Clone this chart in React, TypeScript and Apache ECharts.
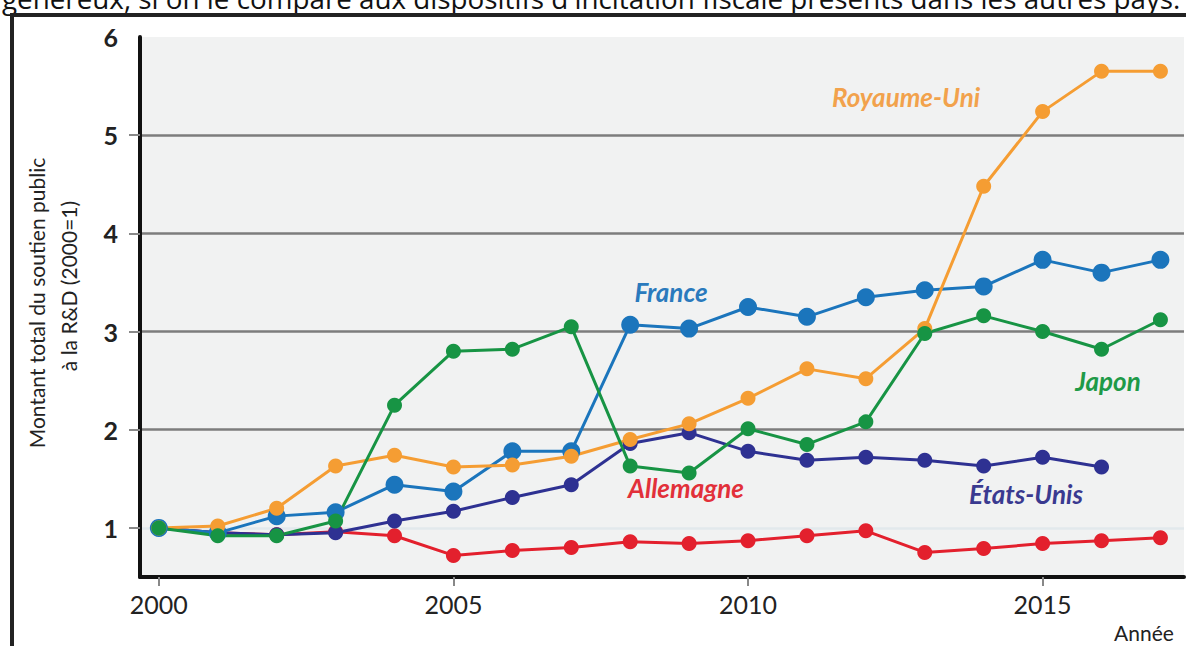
import React, { useEffect, useRef } from "react";
import * as echarts from "echarts";

const years = [2000, 2001, 2002, 2003, 2004, 2005, 2006, 2007, 2008, 2009, 2010, 2011, 2012, 2013, 2014, 2015, 2016, 2017];

const royaumeUni = [1.0, 1.02, 1.2, 1.63, 1.74, 1.62, 1.64, 1.73, 1.9, 2.06, 2.32, 2.62, 2.52, 3.03, 4.48, 5.24, 5.65, 5.65];
const france = [1.0, 0.95, 1.12, 1.16, 1.44, 1.37, 1.78, 1.78, 3.07, 3.03, 3.25, 3.15, 3.35, 3.42, 3.46, 3.73, 3.6, 3.73];
const japon = [1.0, 0.92, 0.92, 1.07, 2.25, 2.8, 2.82, 3.05, 1.63, 1.56, 2.01, 1.85, 2.08, 2.98, 3.16, 3.0, 2.82, 3.12];
const etatsUnis = [1.0, 0.95, 0.93, 0.95, 1.07, 1.17, 1.31, 1.44, 1.86, 1.97, 1.78, 1.69, 1.72, 1.69, 1.63, 1.72, 1.62];
const allemagne = [1.0, 0.95, 0.93, 0.96, 0.92, 0.72, 0.77, 0.8, 0.86, 0.84, 0.87, 0.92, 0.97, 0.75, 0.79, 0.84, 0.87, 0.9];

const xTickLabels = [2000, 2005, 2010, 2015];
const yTickLabels = [1, 2, 3, 4, 5, 6];
const yTicks = [1, 2, 3, 4, 5];

const topText = "généreux, si on le compare aux dispositifs d'incitation fiscale présents dans les autres pays.";
const yName1 = "Montant total du soutien public";
const yName2 = "à la R&D (2000=1)";
const xName = "Année";

const toPairs = (vals: number[]) => vals.map((v, i) => [years[i], v]);

export default function App() {
  const ref = useRef<HTMLDivElement>(null);
  useEffect(() => {
    if (!ref.current) return;
    const chart = echarts.init(ref.current, undefined, { renderer: "svg" });
    const labelFont = "Lato, 'Open Sans', sans-serif";
    const mkSeries = (name: string, vals: number[], color: string, size: number) => ({
      name,
      type: "line",
      data: toPairs(vals),
      symbol: "circle",
      symbolSize: size,
      lineStyle: { color, width: 3 },
      itemStyle: { color },
      emphasis: { disabled: true },
    });
    const seriesLabel = (text: string, x: number, y: number, fill: string) => ({
      type: "text",
      x,
      y,
      style: {
        text,
        fontSize: 26,
        fontStyle: "italic",
        fontWeight: "bold",
        fontFamily: labelFont,
        fill,
        textAlign: "center",
        textVerticalAlign: "middle",
      },
    });
    chart.setOption({
      animation: false,
      backgroundColor: "#ffffff",
      grid: {
        left: 140,
        top: 37,
        right: 2,
        bottom: 69,
        show: true,
        backgroundColor: "#f1f2f2",
        borderWidth: 0,
      },
      xAxis: {
        type: "value",
        min: 1999.68,
        max: 2017.4,
        axisLine: { show: true, lineStyle: { color: "#111", width: 4 } },
        axisTick: { show: true, customValues: xTickLabels, length: 9, lineStyle: { color: "#888", width: 2 } },
        axisLabel: {
          customValues: xTickLabels,
          margin: 14,
          fontSize: 25,
          color: "#222",
          fontFamily: labelFont,
          formatter: (v: number) => String(v),
        },
        splitLine: { show: false },
      },
      yAxis: {
        type: "value",
        min: 0.5,
        max: 6,
        axisLine: { show: true, lineStyle: { color: "#111", width: 4 } },
        axisTick: { show: true, customValues: yTicks, length: 11, lineStyle: { color: "#888", width: 2 } },
        axisLabel: {
          customValues: yTickLabels,
          margin: 22,
          fontSize: 25,
          fontWeight: "bold",
          color: "#222",
          fontFamily: labelFont,
        },
        splitLine: {
          show: true,
          lineStyle: { color: ["#e2e9ec", "#7d7d7d", "#7d7d7d", "#7d7d7d", "#7d7d7d", "rgba(0,0,0,0)"], width: 2.5 },
        },
      },
      series: [
        mkSeries("Allemagne", allemagne, "#e3202d", 15),
        mkSeries("États-Unis", etatsUnis, "#2e3192", 15),
        mkSeries("France", france, "#1b75bc", 18),
        mkSeries("Royaume-Uni", royaumeUni, "#f59d33", 15),
        mkSeries("Japon", japon, "#179444", 15),
      ],
      graphic: [
        {
          type: "text",
          x: 2,
          y: -2.5,
          style: { text: topText, fontSize: 27.8, fontFamily: "'Open Sans', sans-serif", fill: "#111", textAlign: "left", textVerticalAlign: "middle" },
        },
        { type: "rect", shape: { x: 10, y: 13, width: 1176, height: 4 }, style: { fill: "#222" } },
        { type: "rect", shape: { x: 10, y: 13, width: 4, height: 633 }, style: { fill: "#222" } },
        {
          type: "text", x: 36, y: 303, rotation: Math.PI / 2,
          style: { text: yName1, fontSize: 21, fontFamily: labelFont, fill: "#222", textAlign: "center", textVerticalAlign: "middle" },
        },
        {
          type: "text", x: 68, y: 286, rotation: Math.PI / 2,
          style: { text: yName2, fontSize: 21, fontFamily: labelFont, fill: "#222", textAlign: "center", textVerticalAlign: "middle" },
        },
        {
          type: "text", x: 1144, y: 632,
          style: { text: xName, fontSize: 21, fontFamily: labelFont, fill: "#222", textAlign: "center", textVerticalAlign: "middle" },
        },
        seriesLabel("Royaume-Uni", 906, 97, "#f2a24c"),
        seriesLabel("France", 671, 292, "#2a7abd"),
        seriesLabel("Japon", 1108, 381, "#1e9a48"),
        seriesLabel("Allemagne", 686, 488, "#e2303a"),
        seriesLabel("États-Unis", 1026, 494, "#3a3a90"),
      ],
    });
    return () => chart.dispose();
  }, []);
  return (
    <div
      ref={ref}
      style={{ position: "absolute", left: 0, top: 0, width: 1186, height: 646, background: "#fff" }}
    />
  );
}
